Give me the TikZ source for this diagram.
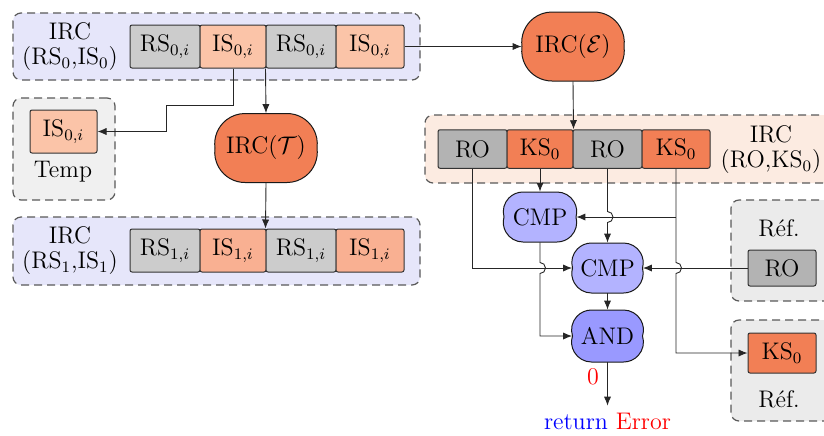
\documentclass[tikz,border=0pt]{standalone}
\usetikzlibrary{calc,arrows.meta}
\definecolor{lav}{RGB}{230,230,250}
\definecolor{tempbg}{RGB}{240,240,240}
\definecolor{peachbg}{RGB}{252,235,225}
\definecolor{refbg}{RGB}{235,235,235}
\definecolor{rsgray}{RGB}{204,204,204}
\definecolor{rogray}{RGB}{179,179,179}
\definecolor{isz}{RGB}{251,196,168}
\definecolor{iso}{RGB}{249,176,146}
\definecolor{ksor}{RGB}{242,127,85}
\definecolor{cmpc}{RGB}{179,179,255}
\definecolor{andc}{RGB}{153,153,255}
\pgfdeclarelayer{bg}
\pgfsetlayers{bg,main}
% #1 node, #2 fill, #3 half width, #4 half height, #5 corner width (numbers, in pt)
\newcommand\ovalpath[5]{%
  \pgfmathsetmacro\oA{#3}\pgfmathsetmacro\oB{#4}\pgfmathsetmacro\oR{#5}%
  \pgfmathsetmacro\oX{\oA-\oR}%
  \pgfmathsetmacro\oRad{(\oR*\oR+\oB*\oB)/(2*\oB)}%
  \pgfmathsetmacro\oPhi{atan2(\oRad-\oB,\oR)}%
  \pgfmathsetmacro\oPhiN{-\oPhi}%
  \pgfmathsetmacro\oPhiA{180-\oPhi}%
  \pgfmathsetmacro\oPhiB{180+\oPhi}%
  \begin{pgfonlayer}{bg}
  \path[draw=black!90,line width=0.5pt,fill=#2,shift={(#1.center)}]
    (-\oX pt,\oB pt) -- (\oX pt,\oB pt)
    arc[start angle=90,end angle=\oPhi,radius=\oRad pt]
    arc[start angle=\oPhiN,end angle=-90,radius=\oRad pt]
    -- (-\oX pt,-\oB pt)
    arc[start angle=270,end angle=\oPhiB,radius=\oRad pt]
    arc[start angle=\oPhiA,end angle=90,radius=\oRad pt]
    -- cycle;
  \end{pgfonlayer}}
\tikzset{
  every node/.style={font=\fontsize{12}{12.5}\selectfont},
  cell/.style={draw=black!80,line width=0.5pt,rounded corners=1pt,inner sep=0pt},
  container/.style={draw=black!65,dash pattern=on 4pt off 2.5pt,line width=0.6pt,rounded corners=4pt,inner sep=0pt},
  ovalnode/.style={inner sep=0pt},
  conn/.style={draw=black!85,line width=0.45pt,-{Latex[length=4.5pt,width=3.6pt]}}
}
\begin{document}
\begin{tikzpicture}[x=0.5pt,y=0.5pt]
\useasboundingbox (0,0) rectangle (824,-435);
% containers
\node[container,fill=lav,minimum width=203.5pt,minimum height=33.5pt] (ctop) at (216.5,-46.5) {};
\node[container,fill=tempbg,minimum width=51pt,minimum height=51pt] (ctemp) at (64,-149) {};
\node[container,fill=lav,minimum width=203.5pt,minimum height=34pt] (cbot) at (216.5,-251) {};
\node[container,fill=peachbg,minimum width=207.5pt,minimum height=34pt] (crt) at (632.5,-149) {};
\node[container,fill=refbg,minimum width=54.5pt,minimum height=50.5pt] (cref1) at (785.5,-250.5) {};
\node[container,fill=refbg,minimum width=54.5pt,minimum height=50.5pt] (cref2) at (785.5,-370.5) {};
% labels
\node[align=center] (ltop) at (70,-47) {IRC\\(RS$_0$,IS$_0$)};
\node (ltemp) at (63,-172) {Temp};
\node[align=center] (lbot) at (70,-251) {IRC\\(RS$_1$,IS$_1$)};
\node[align=center] (lrt) at (771,-150) {IRC\\(RO,KS$_0$)};
\node (lref1) at (779,-228) {Réf.};
\node (lref2) at (779,-399) {Réf.};
% top row
\node[cell,fill=rsgray,minimum width=35pt,minimum height=21.5pt] (rs0a) at (165,-46.5) {RS$_{0,i}$};
\node[cell,fill=isz,minimum width=33pt,minimum height=21.5pt] (is0a) at (233,-46.5) {IS$_{0,i}$};
\node[cell,fill=rsgray,minimum width=35pt,minimum height=21.5pt] (rs0b) at (301,-46.5) {RS$_{0,i}$};
\node[cell,fill=isz,minimum width=34pt,minimum height=21.5pt] (is0b) at (370,-46.5) {IS$_{0,i}$};
% bottom row
\node[cell,fill=rsgray,minimum width=35pt,minimum height=21.5pt] (rs1a) at (165,-250.5) {RS$_{1,i}$};
\node[cell,fill=iso,minimum width=33pt,minimum height=21.5pt] (is1a) at (233,-250.5) {IS$_{1,i}$};
\node[cell,fill=rsgray,minimum width=35pt,minimum height=21.5pt] (rs1b) at (301,-250.5) {RS$_{1,i}$};
\node[cell,fill=iso,minimum width=34pt,minimum height=21.5pt] (is1b) at (370,-250.5) {IS$_{1,i}$};
% temp
\node[cell,fill=isz,minimum width=33.5pt,minimum height=21.5pt] (tempis) at (63.5,-131.5) {IS$_{0,i}$};
% right row
\node[cell,fill=rogray,minimum width=34.5pt,minimum height=19.25pt] (ro1) at (472.5,-149) {RO};
\node[cell,fill=ksor,minimum width=33pt,minimum height=19.25pt] (ks1) at (540,-149) {KS$_0$};
\node[cell,fill=rogray,minimum width=34.5pt,minimum height=19.25pt] (ro2) at (607.5,-149) {RO};
\node[cell,fill=ksor,minimum width=34pt,minimum height=19.25pt] (ks2) at (676,-149) {KS$_0$};
% ref
\node[cell,fill=rogray,minimum width=34pt,minimum height=18pt] (refro) at (782,-268) {RO};
\node[cell,fill=ksor,minimum width=34pt,minimum height=20pt] (refks) at (782,-353) {KS$_0$};
% ovals
\node[ovalnode,minimum width=51pt,minimum height=34.5pt] (irce) at (573,-46.5) {IRC($\mathcal{E}$)};
\ovalpath{irce}{ksor}{25.5}{17.25}{15}
\node[ovalnode,minimum width=51pt,minimum height=34.5pt] (irct) at (266,-148) {IRC($\mathcal{T}$)};
\ovalpath{irct}{ksor}{25.5}{17.25}{15}
\node[ovalnode,minimum width=36pt,minimum height=25pt] (cmp1) at (540,-217) {CMP};
\ovalpath{cmp1}{cmpc}{18}{12.5}{9.5}
\node[ovalnode,minimum width=35pt,minimum height=25pt] (cmp2) at (607.5,-268) {CMP};
\ovalpath{cmp2}{cmpc}{17.5}{12.5}{9.5}
\node[ovalnode,minimum width=35pt,minimum height=26pt] (and) at (607.5,-336) {AND};
\ovalpath{and}{andc}{17.5}{13}{9.5}
% return
\node (ret) at (607.5,-421) {\textcolor{blue}{return} \textcolor{red}{Error}};
\node[text=red] (zero) at (593,-377) {0};
% connectors
\coordinate (bend) at (166,-105);
\draw[conn] (is0a.south) |- (bend) |- (tempis.east);
\draw[conn] (rs0b.south west) -- (irct.north);
\draw[conn] (irct.south) -- (rs1b.north west);
\draw[conn] (is0b.east) -- (irce.west);
\draw[conn] (irce.south) -- (ks1.north east);
\draw[conn] (ks1.south) -- (cmp1.north);
\draw[conn] (ro2.south) -- ([yshift=2.75pt]ro2.south |- cmp1.east) arc[start angle=90,end angle=-90,radius=2.75pt] -- (cmp2.north);
\draw[conn] (cmp1.south) -- ([yshift=2.75pt]cmp1.south |- cmp2.west) arc[start angle=90,end angle=-90,radius=2.75pt] |- (and.west);
\draw[conn] (ks2.south) -- ([yshift=2.75pt]ks2.south |- cmp2.east) arc[start angle=90,end angle=-90,radius=2.75pt] |- (refks.west);
\draw[conn] (ks2.south |- cmp1.east) -- (cmp1.east);
\draw[conn] (ro1.south) |- (cmp2.west);
\draw[conn] (refro.west) -- (cmp2.east);
\draw[conn] (cmp2.south) -- (and.north);
\draw[conn] (and.south) -- (ret.north);
\end{tikzpicture}
\end{document}
